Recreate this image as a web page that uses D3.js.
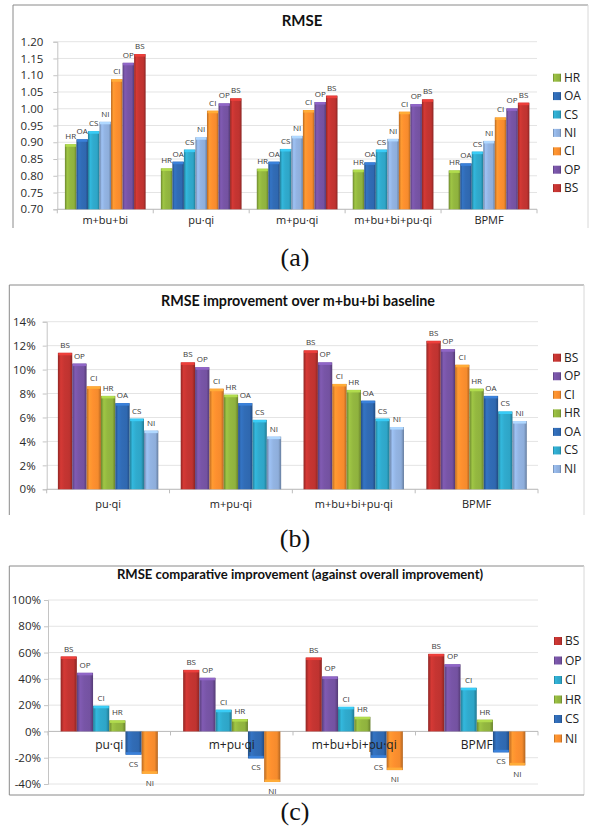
<!DOCTYPE html>
<html>
<head>
<meta charset="utf-8">
<script src="https://cdn.jsdelivr.net/npm/d3@7/dist/d3.min.js"></script>
<style>
  body { margin: 0; background: #fff; }
  svg { display: block; font-family: "Open Sans", "DejaVu Sans", sans-serif; }
</style>
</head>
<body>
<svg id="fig" width="590" height="834"></svg>
<script>
// ---- (a) RMSE per model and neighbourhood method ----
const modelsA = ["m+bu+bi", "pu·qi", "m+pu·qi", "m+bu+bi+pu·qi", "BPMF"];
const seriesA = ["HR", "OA", "CS", "NI", "CI", "OP", "BS"];
const rmseHR = [0.894, 0.822, 0.821, 0.818, 0.816];
const rmseOA = [0.909, 0.842, 0.842, 0.840, 0.837];
const rmseCS = [0.933, 0.878, 0.880, 0.878, 0.872];
const rmseNI = [0.961, 0.915, 0.919, 0.910, 0.904];
const rmseCI = [1.088, 0.994, 0.996, 0.991, 0.974];
const rmseOP = [1.137, 1.016, 1.020, 1.014, 1.001];
const rmseBS = [1.163, 1.031, 1.039, 1.028, 1.018];
const ticksA = [0.70, 0.75, 0.80, 0.85, 0.90, 0.95, 1.00, 1.05, 1.10, 1.15, 1.20];

// ---- (b) RMSE improvement (%) over the m+bu+bi baseline ----
const modelsB = ["pu·qi", "m+pu·qi", "m+bu+bi+pu·qi", "BPMF"];
const seriesB = ["BS", "OP", "CI", "HR", "OA", "CS", "NI"];
const impBS = [11.4, 10.6, 11.6, 12.4];
const impOP = [10.5, 10.2, 10.6, 11.7];
const impCI = [8.6, 8.4, 8.8, 10.4];
const impHR = [7.8, 7.9, 8.3, 8.4];
const impOA = [7.2, 7.2, 7.4, 7.8];
const impCS = [5.9, 5.8, 5.9, 6.5];
const impNI = [4.9, 4.4, 5.2, 5.7];
const ticksB = [0, 2, 4, 6, 8, 10, 12, 14];

// ---- (c) comparative improvement (%) against the overall improvement ----
const modelsC = ["pu·qi", "m+pu·qi", "m+bu+bi+pu·qi", "BPMF"];
const seriesC = ["BS", "OP", "CI", "HR", "CS", "NI"];
const cmpBS = [57.0, 46.8, 56.2, 59.0];
const cmpOP = [44.6, 40.8, 41.8, 51.1];
const cmpCI = [19.5, 16.5, 18.7, 33.2];
const cmpHR = [8.4, 9.4, 11.1, 8.9];
const cmpCS = [-17.7, -20.5, -20.0, -15.9];
const cmpNI = [-32.2, -38.5, -29.4, -25.8];
const ticksC = [-40, -20, 0, 20, 40, 60, 80, 100];

// Office-style series palette
const palette = {
  green: "#8fb23e", blue: "#2f68b0", teal: "#2ea5c7", light: "#8eaedb",
  orange: "#f58b2d", purple: "#7452a1", red: "#bf3330"
};
const colA = { HR: "green", OA: "blue", CS: "teal", NI: "light", CI: "orange", OP: "purple", BS: "red" };
const colC = { BS: "red", OP: "purple", CI: "teal", HR: "green", CS: "blue", NI: "orange" };

const svg = d3.select("#fig");
const defs = svg.append("defs");

// horizontal shading gives the bars their rounded, glossy look
Object.entries(palette).forEach(([k, c]) => {
  const base = d3.rgb(c);
  const gr = defs.append("linearGradient").attr("id", "g-" + k)
    .attr("x1", "0%").attr("x2", "100%").attr("y1", "0%").attr("y2", "0%");
  [[0, base.darker(0.8)], [0.2, base.brighter(0.3)], [0.45, base.brighter(0.1)],
   [0.8, base], [1, base.darker(0.9)]].forEach(([o, col]) =>
    gr.append("stop").attr("offset", o).attr("stop-color", col));
});

function frame(x0, y0, x1, y1, bottom) {
  const f = svg.append("g").attr("fill", "none");
  f.append("path").attr("d", `M${x0},${y1}V${y0}H${x1}`).attr("stroke", "#8a8a8a");
  f.append("path").attr("d", `M${x1},${y0}V${y1}`).attr("stroke", "#d8d8d8");
  if (bottom) f.append("path").attr("d", `M${x0},${y1}H${x1}`).attr("stroke", "#8a8a8a");
}

function panel(o) {
  const g = svg.append("g");
  const y = d3.scaleLinear().domain(o.yDomain).range(o.yRange);
  const x0 = d3.scaleBand().domain(o.cats).range(o.xRange);
  const x1 = d3.scaleBand().domain(o.series.map(s => s.name))
    .range([0, x0.bandwidth()]).paddingOuter(o.pad);
  const [xl, xr] = o.xRange;

  // gridlines
  g.append("g").selectAll("line").data(o.ticks).join("line")
    .attr("x1", xl).attr("x2", xr)
    .attr("y1", d => y(d)).attr("y2", d => y(d))
    .attr("stroke", "#e4e4e4");

  // value axis
  const ay = g.append("g").attr("transform", `translate(${xl},0)`)
    .call(d3.axisLeft(y).tickValues(o.ticks).tickFormat(o.fmt).tickSize(4).tickPadding(o.tickPad));
  ay.select(".domain").attr("stroke", "#c4c4c4");
  ay.selectAll(".tick line").attr("stroke", "#c4c4c4");
  ay.selectAll(".tick text").attr("fill", "#2a2a2a")
    .style("font-family", "'Open Sans', sans-serif").style("font-size", "11.5px");

  // category axis line and boundary ticks
  const base = y(o.baseValue);
  g.append("line").attr("x1", xl).attr("x2", xr).attr("y1", base).attr("y2", base)
    .attr("stroke", "#bdbdbd");
  g.append("g").selectAll("line").data(o.cats.map(c => x0(c)).concat([xr])).join("line")
    .attr("x1", d => d).attr("x2", d => d).attr("y1", base).attr("y2", base + 4)
    .attr("stroke", "#bdbdbd");

  // bars
  o.series.forEach(s => {
    const sg = g.append("g");
    s.values.forEach((v, i) => {
      const bx = x0(o.cats[i]) + x1(s.name);
      const bw = x1.bandwidth();
      const yv = y(v), yb = y(o.baseValue);
      const y0 = Math.min(yv, yb), h = Math.abs(yb - yv);
      sg.append("rect").attr("x", bx).attr("y", y0).attr("width", bw).attr("height", h)
        .attr("fill", `url(#g-${s.color})`);
      // bevelled end cap
      const capY = v >= o.baseValue ? y0 : y0 + h - 2.5;
      sg.append("rect").attr("x", bx + 0.5).attr("y", capY).attr("width", bw - 1).attr("height", 2.5)
        .attr("fill", d3.rgb(palette[s.color]).brighter(0.6));
      // series name over (or under) the bar
      sg.append("text")
        .attr("x", bx + bw / 2)
        .attr("y", v >= o.baseValue ? yv - 5 : yv + 12)
        .attr("text-anchor", "middle").attr("fill", "#3a3a3a")
        .style("font-size", "8px")
        .text(s.name);
    });
  });

  // category labels
  const ax = g.append("g").attr("transform", `translate(0,${base})`)
    .call(d3.axisBottom(x0).tickSize(0).tickPadding(o.catPad));
  ax.select(".domain").remove();
  ax.selectAll(".tick text").attr("fill", "#222")
    .style("font-family", "'Open Sans', sans-serif").style("font-size", o.catSize + "px");

  // title
  g.append("text").attr("x", o.titleX).attr("y", o.titleY).attr("text-anchor", "middle")
    .attr("fill", "#111")
    .style("font-family", "Lato, sans-serif").style("font-weight", 700)
    .style("font-size", o.titleSize + "px").text(o.title);

  // legend
  const lg = g.append("g");
  o.series.forEach((s, i) => {
    const ly = o.legendY + i * o.legendStep;
    lg.append("rect").attr("x", o.legendX).attr("y", ly - 4).attr("width", 8).attr("height", 8)
      .attr("fill", `url(#g-${s.color})`);
    lg.append("text").attr("x", o.legendX + 11).attr("y", ly + 4)
      .attr("fill", "#222").style("font-size", "12px").text(s.name);
  });
}

function caption(txt, y) {
  svg.append("text").attr("x", 295).attr("y", y).attr("text-anchor", "middle")
    .attr("fill", "#111")
    .style("font-family", "'Liberation Serif', serif").style("font-size", "26px")
    .text(txt);
}

// ---- panel (a) ----
frame(13, 5, 588, 228, false);
const valsA = { HR: rmseHR, OA: rmseOA, CS: rmseCS, NI: rmseNI, CI: rmseCI, OP: rmseOP, BS: rmseBS };
panel({
  cats: modelsA,
  series: seriesA.map(n => ({ name: n, values: valsA[n], color: colA[n] })),
  yDomain: [0.70, 1.20], yRange: [209.3, 41.7], xRange: [57.3, 537],
  ticks: ticksA, fmt: d3.format(".2f"), tickPad: 10, baseValue: 0.70, pad: 0.66,
  catPad: 7, catSize: 11, title: "RMSE", titleX: 302, titleY: 26, titleSize: 15,
  legendX: 553, legendY: 77.7, legendStep: 18.4
});
caption("(a)", 266);

// ---- panel (b) ----
frame(9.3, 285, 584, 515, false);
const valsB = { BS: impBS, OP: impOP, CI: impCI, HR: impHR, OA: impOA, CS: impCS, NI: impNI };
panel({
  cats: modelsB,
  series: seriesB.map(n => ({ name: n, values: valsB[n], color: colA[n] })),
  yDomain: [0, 14], yRange: [489.3, 321.7], xRange: [46.7, 538],
  ticks: ticksB, fmt: d => d + "%", tickPad: 7, baseValue: 0, pad: 0.78,
  catPad: 11, catSize: 11, title: "RMSE improvement over m+bu+bi baseline", titleX: 298, titleY: 306,
  titleSize: 14.3, legendX: 553, legendY: 357.7, legendStep: 18.55
});
caption("(b)", 547);

// ---- panel (c) ----
frame(9.3, 566, 584, 795, true);
const valsC = { BS: cmpBS, OP: cmpOP, CI: cmpCI, HR: cmpHR, CS: cmpCS, NI: cmpNI };
panel({
  cats: modelsC,
  series: seriesC.map(n => ({ name: n, values: valsC[n], color: colC[n] })),
  yDomain: [-40, 100], yRange: [784, 600], xRange: [48, 538],
  ticks: ticksC, fmt: d => d + "%", tickPad: 3, baseValue: 0, pad: 0.78,
  catPad: 9, catSize: 12, title: "RMSE comparative improvement (against overall improvement)",
  titleX: 300, titleY: 579, titleSize: 13.1, legendX: 554, legendY: 641, legendStep: 19.5
});
caption("(c)", 820);
</script>
</body>
</html>
